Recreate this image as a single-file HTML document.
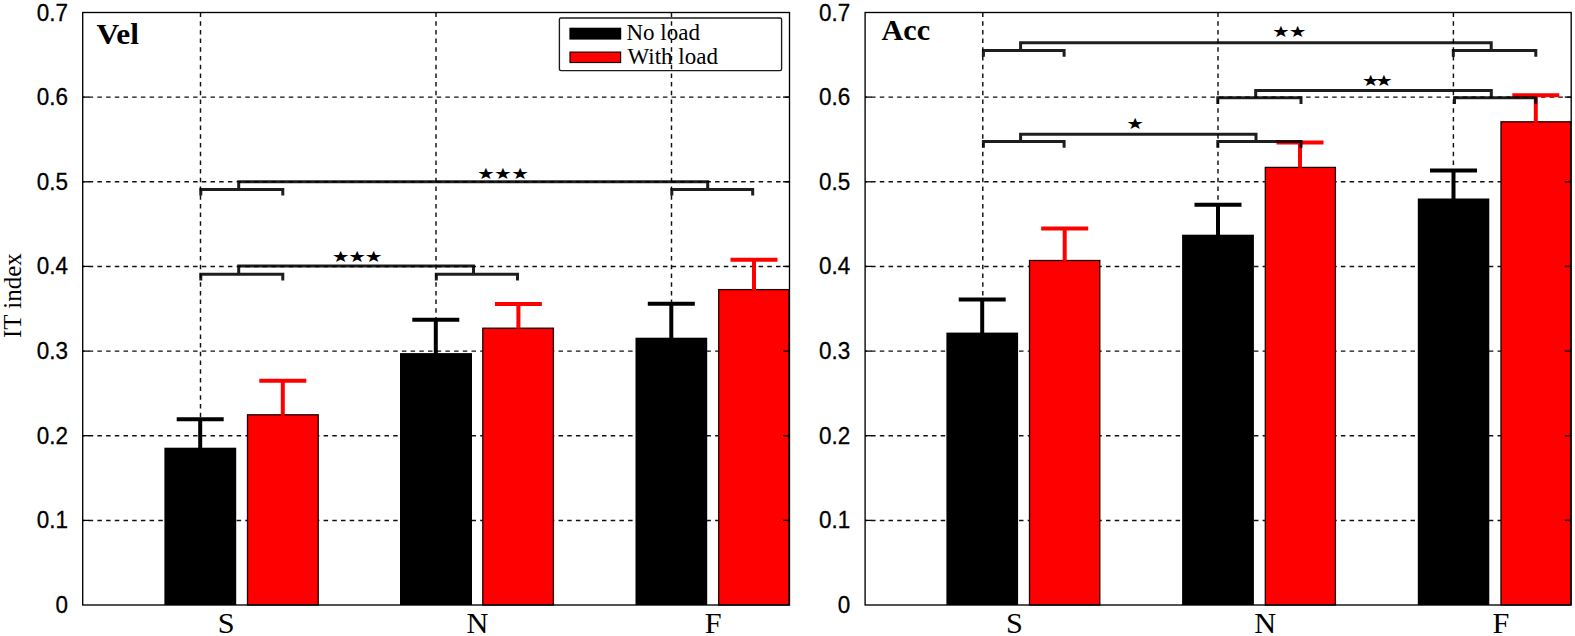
<!DOCTYPE html>
<html lang="en"><head><meta charset="utf-8"><title>IT index: Vel / Acc</title>
<style>html,body{margin:0;padding:0;background:#fff}body{width:1575px;height:636px;overflow:hidden}svg{display:block}
.tick{font-family:"Liberation Sans",Arial,Helvetica,sans-serif;font-size:23.5px;fill:#000;stroke:#000;stroke-width:0.3px}
.ser{font-family:"Liberation Serif","Times New Roman",Times,serif;fill:#000}
.star{font-family:"DejaVu Sans","Liberation Sans",sans-serif;font-size:18.5px;fill:#000}
</style></head><body>
<svg width="1575" height="636" viewBox="0 0 1575 636">
<rect width="1575" height="636" fill="#fff"/>
<g stroke="#111" stroke-width="1.45" stroke-dasharray="4.5 4.2" fill="none">
<line x1="82.7" y1="520.4" x2="789.5" y2="520.4" stroke-dashoffset="-6"/>
<line x1="82.7" y1="435.7" x2="789.5" y2="435.7" stroke-dashoffset="-6"/>
<line x1="82.7" y1="351.1" x2="789.5" y2="351.1" stroke-dashoffset="-6"/>
<line x1="82.7" y1="266.4" x2="789.5" y2="266.4" stroke-dashoffset="-6"/>
<line x1="82.7" y1="181.8" x2="789.5" y2="181.8" stroke-dashoffset="-6"/>
<line x1="82.7" y1="97.1" x2="789.5" y2="97.1" stroke-dashoffset="-6"/>
<line x1="200.5" y1="12.5" x2="200.5" y2="605.0"/>
<line x1="436.0" y1="12.5" x2="436.0" y2="605.0"/>
<line x1="671.5" y1="12.5" x2="671.5" y2="605.0"/>
</g>
<rect x="164.4" y="447.7" width="71.8" height="157.3" fill="#000"/>
<path d="M200.2 448.7V419.3M176.7 419.3H223.7" stroke="#000" stroke-width="4" fill="none"/>
<rect x="247.5" y="414.8" width="70.7" height="190.2" fill="#fe0000" stroke="#1a0000" stroke-width="1.3"/>
<path d="M282.8 415.2V380.8M259.3 380.8H306.3" stroke="#fe0000" stroke-width="4" fill="none"/>
<rect x="400.0" y="353.1" width="72.0" height="251.9" fill="#000"/>
<path d="M435.8 354.1V319.8M412.3 319.8H459.3" stroke="#000" stroke-width="4" fill="none"/>
<rect x="482.8" y="328.2" width="70.6" height="276.8" fill="#fe0000" stroke="#1a0000" stroke-width="1.3"/>
<path d="M518.4 328.6V303.9M494.9 303.9H541.9" stroke="#fe0000" stroke-width="4" fill="none"/>
<rect x="635.5" y="337.7" width="71.7" height="267.3" fill="#000"/>
<path d="M671.3 338.7V303.8M647.8 303.8H694.8" stroke="#000" stroke-width="4" fill="none"/>
<rect x="718.7" y="289.6" width="70.2" height="315.4" fill="#fe0000" stroke="#1a0000" stroke-width="1.3"/>
<path d="M754.0 290.0V259.8M730.5 259.8H777.5" stroke="#fe0000" stroke-width="4" fill="none"/>
<g stroke="#000" stroke-width="1.3">
<line x1="82.7" y1="520.4" x2="89.2" y2="520.4"/>
<line x1="783.0" y1="520.4" x2="789.5" y2="520.4"/>
<line x1="82.7" y1="435.7" x2="89.2" y2="435.7"/>
<line x1="783.0" y1="435.7" x2="789.5" y2="435.7"/>
<line x1="82.7" y1="351.1" x2="89.2" y2="351.1"/>
<line x1="783.0" y1="351.1" x2="789.5" y2="351.1"/>
<line x1="82.7" y1="266.4" x2="89.2" y2="266.4"/>
<line x1="783.0" y1="266.4" x2="789.5" y2="266.4"/>
<line x1="82.7" y1="181.8" x2="89.2" y2="181.8"/>
<line x1="783.0" y1="181.8" x2="789.5" y2="181.8"/>
<line x1="82.7" y1="97.1" x2="89.2" y2="97.1"/>
<line x1="783.0" y1="97.1" x2="789.5" y2="97.1"/>
</g>
<rect x="82.7" y="12.5" width="706.8" height="592.5" fill="none" stroke="#000" stroke-width="1.35"/>
<text class="tick" transform="translate(67.9 613.0) scale(0.955 1)" text-anchor="end">0</text>
<text class="tick" transform="translate(67.9 528.4) scale(0.955 1)" text-anchor="end">0.1</text>
<text class="tick" transform="translate(67.9 443.7) scale(0.955 1)" text-anchor="end">0.2</text>
<text class="tick" transform="translate(67.9 359.1) scale(0.955 1)" text-anchor="end">0.3</text>
<text class="tick" transform="translate(67.9 274.4) scale(0.955 1)" text-anchor="end">0.4</text>
<text class="tick" transform="translate(67.9 189.8) scale(0.955 1)" text-anchor="end">0.5</text>
<text class="tick" transform="translate(67.9 105.1) scale(0.955 1)" text-anchor="end">0.6</text>
<text class="tick" transform="translate(67.9 20.5) scale(0.955 1)" text-anchor="end">0.7</text>
<text class="ser" transform="translate(96.6 43.6) scale(1.100 1)" font-size="28.5" font-weight="bold">Vel</text>
<text class="ser" x="226.1" y="632.6" font-size="30.3" text-anchor="middle">S</text>
<text class="ser" x="477.4" y="632.6" font-size="30.3" text-anchor="middle">N</text>
<text class="ser" x="713.2" y="632.6" font-size="30.3" text-anchor="middle">F</text>
<g stroke="#111" stroke-width="1.45" stroke-dasharray="4.5 4.2" fill="none">
<line x1="865.1" y1="520.4" x2="1571.2" y2="520.4" stroke-dashoffset="-6"/>
<line x1="865.1" y1="435.7" x2="1571.2" y2="435.7" stroke-dashoffset="-6"/>
<line x1="865.1" y1="351.1" x2="1571.2" y2="351.1" stroke-dashoffset="-6"/>
<line x1="865.1" y1="266.4" x2="1571.2" y2="266.4" stroke-dashoffset="-6"/>
<line x1="865.1" y1="181.8" x2="1571.2" y2="181.8" stroke-dashoffset="-6"/>
<line x1="865.1" y1="97.1" x2="1571.2" y2="97.1" stroke-dashoffset="-6"/>
<line x1="982.8" y1="12.5" x2="982.8" y2="605.0"/>
<line x1="1218.0" y1="12.5" x2="1218.0" y2="605.0"/>
<line x1="1453.4" y1="12.5" x2="1453.4" y2="605.0"/>
</g>
<rect x="946.4" y="332.6" width="71.7" height="272.4" fill="#000"/>
<path d="M982.2 333.6V299.4M958.7 299.4H1005.7" stroke="#000" stroke-width="4" fill="none"/>
<rect x="1029.5" y="260.5" width="70.3" height="344.5" fill="#fe0000" stroke="#1a0000" stroke-width="1.3"/>
<path d="M1064.7 260.9V228.4M1041.2 228.4H1088.2" stroke="#fe0000" stroke-width="4" fill="none"/>
<rect x="1182.1" y="234.7" width="71.8" height="370.3" fill="#000"/>
<path d="M1218.0 235.7V204.8M1194.5 204.8H1241.5" stroke="#000" stroke-width="4" fill="none"/>
<rect x="1265.3" y="167.4" width="70.1" height="437.6" fill="#fe0000" stroke="#1a0000" stroke-width="1.3"/>
<path d="M1300.0 167.8V142.4M1276.5 142.4H1323.5" stroke="#fe0000" stroke-width="4" fill="none"/>
<rect x="1417.8" y="198.5" width="71.5" height="406.5" fill="#000"/>
<path d="M1453.5 199.5V170.5M1430.0 170.5H1477.0" stroke="#000" stroke-width="4" fill="none"/>
<rect x="1501.0" y="121.8" width="69.6" height="483.2" fill="#fe0000" stroke="#1a0000" stroke-width="1.3"/>
<path d="M1535.8 122.2V95.2M1512.3 95.2H1559.3" stroke="#fe0000" stroke-width="4" fill="none"/>
<g stroke="#000" stroke-width="1.3">
<line x1="865.1" y1="520.4" x2="871.6" y2="520.4"/>
<line x1="1564.7" y1="520.4" x2="1571.2" y2="520.4"/>
<line x1="865.1" y1="435.7" x2="871.6" y2="435.7"/>
<line x1="1564.7" y1="435.7" x2="1571.2" y2="435.7"/>
<line x1="865.1" y1="351.1" x2="871.6" y2="351.1"/>
<line x1="1564.7" y1="351.1" x2="1571.2" y2="351.1"/>
<line x1="865.1" y1="266.4" x2="871.6" y2="266.4"/>
<line x1="1564.7" y1="266.4" x2="1571.2" y2="266.4"/>
<line x1="865.1" y1="181.8" x2="871.6" y2="181.8"/>
<line x1="1564.7" y1="181.8" x2="1571.2" y2="181.8"/>
<line x1="865.1" y1="97.1" x2="871.6" y2="97.1"/>
<line x1="1564.7" y1="97.1" x2="1571.2" y2="97.1"/>
</g>
<rect x="865.1" y="12.5" width="706.1" height="592.5" fill="none" stroke="#000" stroke-width="1.35"/>
<text class="tick" transform="translate(850.3 613.0) scale(0.955 1)" text-anchor="end">0</text>
<text class="tick" transform="translate(850.3 528.4) scale(0.955 1)" text-anchor="end">0.1</text>
<text class="tick" transform="translate(850.3 443.7) scale(0.955 1)" text-anchor="end">0.2</text>
<text class="tick" transform="translate(850.3 359.1) scale(0.955 1)" text-anchor="end">0.3</text>
<text class="tick" transform="translate(850.3 274.4) scale(0.955 1)" text-anchor="end">0.4</text>
<text class="tick" transform="translate(850.3 189.8) scale(0.955 1)" text-anchor="end">0.5</text>
<text class="tick" transform="translate(850.3 105.1) scale(0.955 1)" text-anchor="end">0.6</text>
<text class="tick" transform="translate(850.3 20.5) scale(0.955 1)" text-anchor="end">0.7</text>
<text class="ser" transform="translate(881.5 40.4) scale(1.060 1)" font-size="28.5" font-weight="bold">Acc</text>
<text class="ser" x="1014.5" y="632.6" font-size="30.3" text-anchor="middle">S</text>
<text class="ser" x="1265.3" y="632.6" font-size="30.3" text-anchor="middle">N</text>
<text class="ser" x="1501.0" y="632.6" font-size="30.3" text-anchor="middle">F</text>
<g stroke="#000" stroke-width="3" fill="none" stroke-linejoin="miter" opacity="0.88">
<path d="M200.8 280.5V274.3H282.8V280.5"/>
<path d="M436.3 280.5V274.3H517.5V280.5"/>
<path d="M238.7 274.3V266.0H473.5V274.3"/>
<path d="M200.8 195.6V189.4H282.8V195.6"/>
<path d="M671.8 195.6V189.4H752.7V195.6"/>
<path d="M238.7 189.4V181.7H707.7V189.4"/>
<path d="M983.4 56.7V50.5H1064.1V56.7"/>
<path d="M1453.3 56.7V50.5H1535.8V56.7"/>
<path d="M1020.6 50.5V42.8H1491.2V50.5"/>
<path d="M1217.8 104.0V97.8H1301.0V104.0"/>
<path d="M1454.5 104.0V97.8H1535.7V104.0"/>
<path d="M1255.7 97.8V90.4H1491.3V97.8"/>
<path d="M983.4 147.8V141.6H1064.1V147.8"/>
<path d="M1217.8 147.8V141.6H1301.0V147.8"/>
<path d="M1020.6 141.6V134.2H1256.0V141.6"/>
</g>
<text class="star" transform="translate(340.7 256.5) scale(1.07 0.84)" y="6.4" text-anchor="middle">★</text>
<text class="star" transform="translate(357.2 256.5) scale(1.07 0.84)" y="6.4" text-anchor="middle">★</text>
<text class="star" transform="translate(373.7 256.5) scale(1.07 0.84)" y="6.4" text-anchor="middle">★</text>
<text class="star" transform="translate(485.8 173.2) scale(1.07 0.84)" y="6.4" text-anchor="middle">★</text>
<text class="star" transform="translate(502.9 173.2) scale(1.07 0.84)" y="6.4" text-anchor="middle">★</text>
<text class="star" transform="translate(520.0 173.2) scale(1.07 0.84)" y="6.4" text-anchor="middle">★</text>
<text class="star" transform="translate(1280.9 31.7) scale(1.07 0.84)" y="6.4" text-anchor="middle">★</text>
<text class="star" transform="translate(1297.5 31.7) scale(1.07 0.84)" y="6.4" text-anchor="middle">★</text>
<text class="star" transform="translate(1370.7 80.3) scale(1.07 0.84)" y="6.4" text-anchor="middle">★</text>
<text class="star" transform="translate(1383.9 80.3) scale(1.07 0.84)" y="6.4" text-anchor="middle">★</text>
<text class="star" transform="translate(1135.2 124.1) scale(1.07 0.84)" y="6.4" text-anchor="middle">★</text>
<rect x="559.4" y="18" width="222.2" height="52.6" rx="1.5" fill="none" stroke="#1a1a1a" stroke-width="1.35"/>
<rect x="569.4" y="27.7" width="51.8" height="11.9" fill="#000"/>
<rect x="570" y="52.1" width="50.6" height="10.4" fill="#fe0000" stroke="#200" stroke-width="1.2"/>
<text class="ser" x="626.5" y="40.4" font-size="23">No load</text>
<text class="ser" x="627.5" y="63.5" font-size="23">With load</text>
<text class="ser" font-size="25" text-anchor="middle" transform="translate(20.8 295.6) rotate(-90)">IT index</text>
</svg></body></html>
